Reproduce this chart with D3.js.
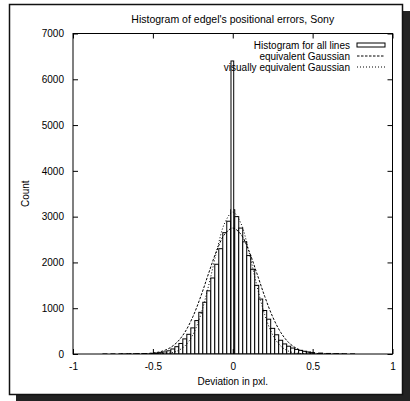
<!DOCTYPE html>
<html><head><meta charset="utf-8">
<script src="https://cdn.jsdelivr.net/npm/d3@7"></script>
<style>body{margin:0;background:#fff}svg{display:block}</style>
</head><body><script>
// ---- data ----
const binWidth = 0.025;
const binCenters = [-0.5,-0.475,-0.45,-0.425,-0.4,-0.375,-0.35,-0.325,-0.3,-0.275,-0.25,-0.225,-0.2,-0.175,-0.15,-0.125,-0.1,-0.075,-0.05,-0.025,0,0.025,0.05,0.075,0.1,0.125,0.15,0.175,0.2,0.225,0.25,0.275,0.3,0.325,0.35,0.375,0.4,0.425,0.45,0.475,0.5];
const counts = [15,20,30,45,70,110,160,230,330,430,570,730,910,1130,1380,1660,1960,2300,2650,2900,3150,3000,2750,2450,2150,1850,1500,1200,950,760,560,420,300,220,170,130,100,80,60,45,30];
const tailCenters = [-0.8,-0.75,-0.7,-0.65,-0.6,-0.55,0.55,0.6,0.65,0.7,0.75];
const tailCounts = [2,3,4,5,7,10,20,12,8,5,3];
const spike = {x0: -0.011, x1: 0.006, count: 6400};
const curveX = [-0.7,-0.65,-0.6,-0.55,-0.5,-0.45,-0.4,-0.35,-0.3,-0.25,-0.2,-0.15,-0.1,-0.05,0,0.05,0.1,0.15,0.2,0.25,0.3,0.35,0.4,0.45,0.5,0.55,0.6,0.65,0.7];
const eqGauss = [0,1,2,7,21,53,121,251,474,811,1259,1772,2263,2619,2750,2619,2263,1772,1259,811,474,251,121,53,21,7,2,1,0];
const visGauss = [0,0,0,0,1,5,19,61,174,420,862,1509,2251,2862,3100,2862,2251,1509,862,420,174,61,19,5,1,0,0,0,0];
const xTicks = [-1,-0.5,0,0.5,1];
const yTicks = [0,1000,2000,3000,4000,5000,6000,7000];
const legendItems = ["Histogram for all lines","equivalent Gaussian","visually equivalent Gaussian"];

// ---- layout ----
const W = 410, H = 401;
const L = 73, R = 392.5, T = 33.5, B = 354;
const font = "'Liberation Sans', Arial, Helvetica, sans-serif";

const svg = d3.select("body").append("svg").attr("width", W).attr("height", H);

// frame + shadow
svg.append("rect").attr("x",403).attr("y",11).attr("width",7).attr("height",390).attr("fill","#222");
svg.append("rect").attr("x",16).attr("y",395).attr("width",394).attr("height",6).attr("fill","#222");
svg.append("rect").attr("x",9.5).attr("y",4.5).attr("width",393).attr("height",390).attr("fill","#fff").attr("stroke","#111").attr("stroke-width",1.5);

const x = d3.scaleLinear().domain([-1,1]).range([L,R]);
const y = d3.scaleLinear().domain([0,7000]).range([B,T]);

const g = svg.append("g");
g.append("defs").append("clipPath").attr("id","clip").append("rect")
  .attr("x",L).attr("y",T).attr("width",R-L).attr("height",B-T);
const plot = g.append("g").attr("clip-path","url(#clip)");

// histogram boxes
const bins = binCenters.map((c,i)=>({c, v: counts[i]})).concat(tailCenters.map((c,i)=>({c, v: tailCounts[i]})));
plot.selectAll("rect.bar").data(bins).join("rect").attr("class","bar")
  .attr("x", d=>x(d.c - binWidth/2)).attr("width", d=>x(d.c+binWidth/2)-x(d.c-binWidth/2))
  .attr("y", d=>y(d.v)).attr("height", d=>y(0)-y(d.v))
  .attr("fill","#fff").attr("stroke","#000").attr("stroke-width",1);
plot.append("rect")
  .attr("x", x(spike.x0)).attr("width", x(spike.x1)-x(spike.x0))
  .attr("y", y(spike.count)).attr("height", y(0)-y(spike.count))
  .attr("fill","#fff").attr("stroke","#000").attr("stroke-width",1);

// gaussians
const line = (arr)=>d3.line().x((d,i)=>x(curveX[i])).y(d=>y(d)).curve(d3.curveCatmullRom)(arr);
plot.append("path").attr("d", line(eqGauss)).attr("fill","none").attr("stroke","#000").attr("stroke-width",1).attr("stroke-dasharray","2.5,1.5");
plot.append("path").attr("d", line(visGauss)).attr("fill","none").attr("stroke","#000").attr("stroke-width",1).attr("stroke-dasharray","1,2");

// border
g.append("rect").attr("x",L).attr("y",T).attr("width",R-L).attr("height",B-T).attr("fill","none").attr("stroke","#000").attr("stroke-width",1);

// axes with inward ticks
const axB = d3.axisBottom(x).tickValues(xTicks).tickSize(-5).tickFormat(d=>String(d)).tickPadding(9);
const axT = d3.axisTop(x).tickValues(xTicks).tickSize(-5).tickFormat("");
const axL = d3.axisLeft(y).tickValues(yTicks).tickSize(-5).tickFormat(d=>String(d)).tickPadding(9);
const axR = d3.axisRight(y).tickValues(yTicks).tickSize(-5).tickFormat("");
function styleAx(sel){
  sel.select(".domain").remove();
  sel.selectAll(".tick line").attr("stroke","#000");
  sel.selectAll(".tick text").attr("font-family",font).attr("font-size","10px").attr("fill","#000");
}
g.append("g").attr("transform",`translate(0,${B})`).call(axB).call(styleAx);
g.append("g").attr("transform",`translate(0,${T})`).call(axT).call(styleAx);
g.append("g").attr("transform",`translate(${L},0)`).call(axL).call(styleAx);
g.append("g").attr("transform",`translate(${R},0)`).call(axR).call(styleAx);

// titles
svg.append("text").attr("x",(L+R)/2).attr("y",23).attr("text-anchor","middle")
  .attr("font-family",font).attr("font-size","10.5px").text("Histogram of edgel's positional errors, Sony");
svg.append("text").attr("x",(L+R)/2).attr("y",385).attr("text-anchor","middle")
  .attr("font-family",font).attr("font-size","10px").text("Deviation in pxl.");
svg.append("text").attr("transform",`translate(29,${(T+B)/2}) rotate(-90)`).attr("text-anchor","middle")
  .attr("font-family",font).attr("font-size","10px").text("Count");

// legend
const ly = [45,56,67];
const leg = svg.append("g");
legendItems.forEach((t,i)=>{
  leg.append("text").attr("x",350).attr("y",ly[i]+3.5).attr("text-anchor","end")
    .attr("font-family",font).attr("font-size","10px").text(t);
});
leg.append("rect").attr("x",357).attr("y",ly[0]-2).attr("width",28).attr("height",4).attr("fill","#fff").attr("stroke","#000");
leg.append("line").attr("x1",357).attr("x2",385).attr("y1",ly[1]).attr("y2",ly[1]).attr("stroke","#000").attr("stroke-dasharray","2.5,1.5");
leg.append("line").attr("x1",357).attr("x2",385).attr("y1",ly[2]).attr("y2",ly[2]).attr("stroke","#000").attr("stroke-dasharray","1,2");
</script></body></html>
